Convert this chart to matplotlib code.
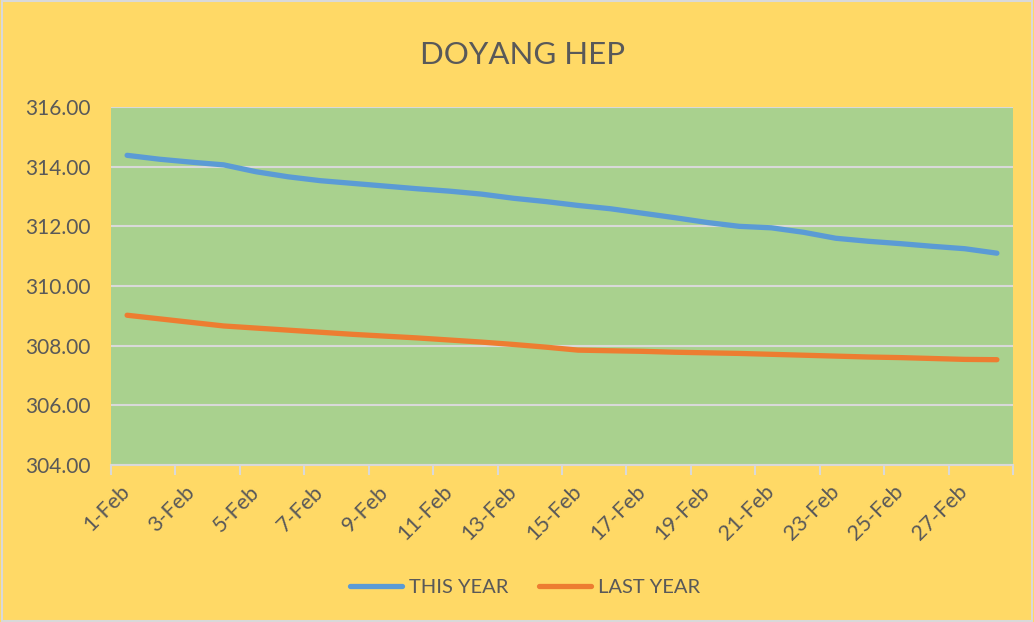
import matplotlib.pyplot as plt
import numpy as np

days = list(range(1, 29))
this_year = [314.38, 314.25, 314.15, 314.06, 313.83, 313.66, 313.53, 313.44,
             313.35, 313.26, 313.18, 313.08, 312.94, 312.83, 312.70, 312.59,
             312.44, 312.29, 312.13, 312.00, 311.95, 311.80, 311.60, 311.50,
             311.42, 311.33, 311.25, 311.10]
last_year = [309.02, 308.90, 308.78, 308.66, 308.59, 308.52, 308.45, 308.38,
             308.32, 308.26, 308.19, 308.12, 308.04, 307.95, 307.85, 307.83,
             307.81, 307.78, 307.76, 307.74, 307.71, 307.68, 307.65, 307.62,
             307.60, 307.57, 307.54, 307.53]
labels = [f"{d}-Feb" for d in days]

plt.rcParams['font.family'] = ['Lato', 'DejaVu Sans']
txt = '#595959'
grid = '#D9D9D9'

fig = plt.figure(figsize=(10.34, 6.22), dpi=100, facecolor='#FFD966')
ax = fig.add_axes([111/1034, 1 - 465/622, 902/1034, 358/622])
ax.set_facecolor('#A9D18E')

x = np.arange(len(days))
ax.plot(x, this_year, color='#5B9BD5', lw=3.8, solid_capstyle='round',
        solid_joinstyle='round', label='THIS YEAR', zorder=3)
ax.plot(x, last_year, color='#ED7D31', lw=3.8, solid_capstyle='round',
        solid_joinstyle='round', label='LAST YEAR', zorder=3)

ax.set_xlim(-0.5, len(days) - 0.5)
ax.set_ylim(304, 316)
ax.set_yticks(np.arange(304, 317, 2))
ax.set_yticklabels([f"{v:.2f}" for v in np.arange(304, 317, 2)])
ax.yaxis.grid(True, color=grid, lw=1.5)
ax.set_axisbelow(True)

ax.set_xticks(np.arange(-0.5, len(days), 2))
ax.set_xticklabels([])
ax.set_xticks(x[::2], minor=True)
ax.set_xticklabels(labels[::2], minor=True, rotation=45, ha='right',
                   va='center', rotation_mode='anchor')
ax.tick_params(axis='x', which='major', length=7, width=1.5, color=grid)
ax.tick_params(axis='x', which='minor', length=0, pad=17, labelsize=15.5,
               labelcolor=txt)
ax.tick_params(axis='y', length=0, pad=15, labelsize=15, labelcolor=txt)

for s in ['top', 'right', 'left']:
    ax.spines[s].set_visible(False)
ax.spines['bottom'].set_color(grid)
ax.spines['bottom'].set_linewidth(1.5)

fig.text(0.505, 1 - 55/622, 'DOYANG HEP', ha='center', va='center',
         fontsize=22.5, color=txt)

leg = fig.legend(loc='center', bbox_to_anchor=(0.508, 1 - 587/622), ncol=2,
                 frameon=False, fontsize=14.5, handlelength=2.6,
                 columnspacing=1.5, handletextpad=0.35)
for t in leg.get_texts():
    t.set_color(txt)

fig.patches.append(plt.Rectangle((0.002, 0.002), 0.996, 0.996,
                                 transform=fig.transFigure, fill=False,
                                 edgecolor='#D9D9D9', lw=1.5))

fig.savefig('out.png', dpi=100, facecolor=fig.get_facecolor())
